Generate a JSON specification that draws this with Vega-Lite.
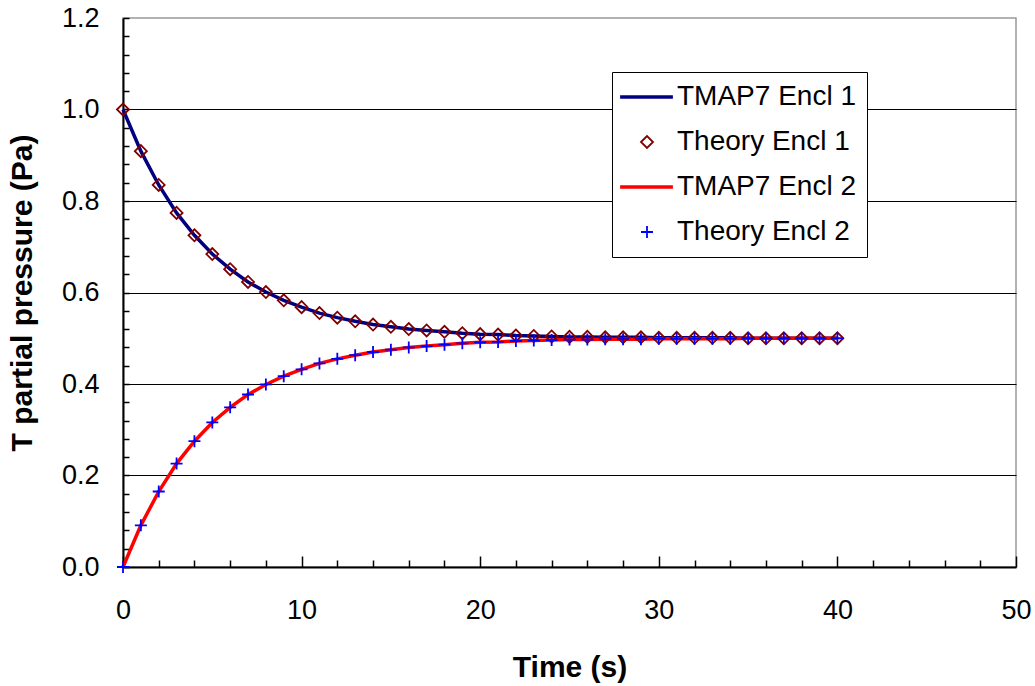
{
  "$schema": "https://vega.github.io/schema/vega-lite/v6.json",
  "width": 893,
  "height": 549,
  "autosize": "none",
  "padding": {"left": 123, "top": 18, "right": 19, "bottom": 119},
  "background": "white",
  "config": {"view": {"stroke": "#999999", "strokeWidth": 1.5}, "font": "Liberation Sans"},
  "data": {"values": [
    {"t":0,"s":"TMAP7 Encl 1","p":1.000},{"t":1,"s":"TMAP7 Encl 1","p":0.909},{"t":2,"s":"TMAP7 Encl 1","p":0.835},{"t":3,"s":"TMAP7 Encl 1","p":0.774},{"t":4,"s":"TMAP7 Encl 1","p":0.725},{"t":5,"s":"TMAP7 Encl 1","p":0.684},{"t":6,"s":"TMAP7 Encl 1","p":0.651},{"t":7,"s":"TMAP7 Encl 1","p":0.623},{"t":8,"s":"TMAP7 Encl 1","p":0.601},{"t":9,"s":"TMAP7 Encl 1","p":0.583},{"t":10,"s":"TMAP7 Encl 1","p":0.568},{"t":11,"s":"TMAP7 Encl 1","p":0.555},{"t":12,"s":"TMAP7 Encl 1","p":0.545},{"t":13,"s":"TMAP7 Encl 1","p":0.537},{"t":14,"s":"TMAP7 Encl 1","p":0.530},{"t":15,"s":"TMAP7 Encl 1","p":0.525},{"t":16,"s":"TMAP7 Encl 1","p":0.520},{"t":17,"s":"TMAP7 Encl 1","p":0.517},{"t":18,"s":"TMAP7 Encl 1","p":0.514},{"t":19,"s":"TMAP7 Encl 1","p":0.511},{"t":20,"s":"TMAP7 Encl 1","p":0.509},{"t":21,"s":"TMAP7 Encl 1","p":0.508},{"t":22,"s":"TMAP7 Encl 1","p":0.506},{"t":23,"s":"TMAP7 Encl 1","p":0.505},{"t":24,"s":"TMAP7 Encl 1","p":0.504},{"t":25,"s":"TMAP7 Encl 1","p":0.503},{"t":26,"s":"TMAP7 Encl 1","p":0.503},{"t":27,"s":"TMAP7 Encl 1","p":0.502},{"t":28,"s":"TMAP7 Encl 1","p":0.502},{"t":29,"s":"TMAP7 Encl 1","p":0.502},{"t":30,"s":"TMAP7 Encl 1","p":0.501},{"t":31,"s":"TMAP7 Encl 1","p":0.501},{"t":32,"s":"TMAP7 Encl 1","p":0.501},{"t":33,"s":"TMAP7 Encl 1","p":0.501},{"t":34,"s":"TMAP7 Encl 1","p":0.501},{"t":35,"s":"TMAP7 Encl 1","p":0.500},{"t":36,"s":"TMAP7 Encl 1","p":0.500},{"t":37,"s":"TMAP7 Encl 1","p":0.500},{"t":38,"s":"TMAP7 Encl 1","p":0.500},{"t":39,"s":"TMAP7 Encl 1","p":0.500},{"t":40,"s":"TMAP7 Encl 1","p":0.500},
    {"t":0,"s":"Theory Encl 1","p":1.000},{"t":1,"s":"Theory Encl 1","p":0.909},{"t":2,"s":"Theory Encl 1","p":0.835},{"t":3,"s":"Theory Encl 1","p":0.774},{"t":4,"s":"Theory Encl 1","p":0.725},{"t":5,"s":"Theory Encl 1","p":0.684},{"t":6,"s":"Theory Encl 1","p":0.651},{"t":7,"s":"Theory Encl 1","p":0.623},{"t":8,"s":"Theory Encl 1","p":0.601},{"t":9,"s":"Theory Encl 1","p":0.583},{"t":10,"s":"Theory Encl 1","p":0.568},{"t":11,"s":"Theory Encl 1","p":0.555},{"t":12,"s":"Theory Encl 1","p":0.545},{"t":13,"s":"Theory Encl 1","p":0.537},{"t":14,"s":"Theory Encl 1","p":0.530},{"t":15,"s":"Theory Encl 1","p":0.525},{"t":16,"s":"Theory Encl 1","p":0.520},{"t":17,"s":"Theory Encl 1","p":0.517},{"t":18,"s":"Theory Encl 1","p":0.514},{"t":19,"s":"Theory Encl 1","p":0.511},{"t":20,"s":"Theory Encl 1","p":0.509},{"t":21,"s":"Theory Encl 1","p":0.508},{"t":22,"s":"Theory Encl 1","p":0.506},{"t":23,"s":"Theory Encl 1","p":0.505},{"t":24,"s":"Theory Encl 1","p":0.504},{"t":25,"s":"Theory Encl 1","p":0.503},{"t":26,"s":"Theory Encl 1","p":0.503},{"t":27,"s":"Theory Encl 1","p":0.502},{"t":28,"s":"Theory Encl 1","p":0.502},{"t":29,"s":"Theory Encl 1","p":0.502},{"t":30,"s":"Theory Encl 1","p":0.501},{"t":31,"s":"Theory Encl 1","p":0.501},{"t":32,"s":"Theory Encl 1","p":0.501},{"t":33,"s":"Theory Encl 1","p":0.501},{"t":34,"s":"Theory Encl 1","p":0.501},{"t":35,"s":"Theory Encl 1","p":0.500},{"t":36,"s":"Theory Encl 1","p":0.500},{"t":37,"s":"Theory Encl 1","p":0.500},{"t":38,"s":"Theory Encl 1","p":0.500},{"t":39,"s":"Theory Encl 1","p":0.500},{"t":40,"s":"Theory Encl 1","p":0.500},
    {"t":0,"s":"TMAP7 Encl 2","p":0.000},{"t":1,"s":"TMAP7 Encl 2","p":0.091},{"t":2,"s":"TMAP7 Encl 2","p":0.165},{"t":3,"s":"TMAP7 Encl 2","p":0.226},{"t":4,"s":"TMAP7 Encl 2","p":0.275},{"t":5,"s":"TMAP7 Encl 2","p":0.316},{"t":6,"s":"TMAP7 Encl 2","p":0.349},{"t":7,"s":"TMAP7 Encl 2","p":0.377},{"t":8,"s":"TMAP7 Encl 2","p":0.399},{"t":9,"s":"TMAP7 Encl 2","p":0.417},{"t":10,"s":"TMAP7 Encl 2","p":0.432},{"t":11,"s":"TMAP7 Encl 2","p":0.445},{"t":12,"s":"TMAP7 Encl 2","p":0.455},{"t":13,"s":"TMAP7 Encl 2","p":0.463},{"t":14,"s":"TMAP7 Encl 2","p":0.470},{"t":15,"s":"TMAP7 Encl 2","p":0.475},{"t":16,"s":"TMAP7 Encl 2","p":0.480},{"t":17,"s":"TMAP7 Encl 2","p":0.483},{"t":18,"s":"TMAP7 Encl 2","p":0.486},{"t":19,"s":"TMAP7 Encl 2","p":0.489},{"t":20,"s":"TMAP7 Encl 2","p":0.491},{"t":21,"s":"TMAP7 Encl 2","p":0.492},{"t":22,"s":"TMAP7 Encl 2","p":0.494},{"t":23,"s":"TMAP7 Encl 2","p":0.495},{"t":24,"s":"TMAP7 Encl 2","p":0.496},{"t":25,"s":"TMAP7 Encl 2","p":0.497},{"t":26,"s":"TMAP7 Encl 2","p":0.497},{"t":27,"s":"TMAP7 Encl 2","p":0.498},{"t":28,"s":"TMAP7 Encl 2","p":0.498},{"t":29,"s":"TMAP7 Encl 2","p":0.498},{"t":30,"s":"TMAP7 Encl 2","p":0.499},{"t":31,"s":"TMAP7 Encl 2","p":0.499},{"t":32,"s":"TMAP7 Encl 2","p":0.499},{"t":33,"s":"TMAP7 Encl 2","p":0.499},{"t":34,"s":"TMAP7 Encl 2","p":0.499},{"t":35,"s":"TMAP7 Encl 2","p":0.500},{"t":36,"s":"TMAP7 Encl 2","p":0.500},{"t":37,"s":"TMAP7 Encl 2","p":0.500},{"t":38,"s":"TMAP7 Encl 2","p":0.500},{"t":39,"s":"TMAP7 Encl 2","p":0.500},{"t":40,"s":"TMAP7 Encl 2","p":0.500},
    {"t":0,"s":"Theory Encl 2","p":0.000},{"t":1,"s":"Theory Encl 2","p":0.091},{"t":2,"s":"Theory Encl 2","p":0.165},{"t":3,"s":"Theory Encl 2","p":0.226},{"t":4,"s":"Theory Encl 2","p":0.275},{"t":5,"s":"Theory Encl 2","p":0.316},{"t":6,"s":"Theory Encl 2","p":0.349},{"t":7,"s":"Theory Encl 2","p":0.377},{"t":8,"s":"Theory Encl 2","p":0.399},{"t":9,"s":"Theory Encl 2","p":0.417},{"t":10,"s":"Theory Encl 2","p":0.432},{"t":11,"s":"Theory Encl 2","p":0.445},{"t":12,"s":"Theory Encl 2","p":0.455},{"t":13,"s":"Theory Encl 2","p":0.463},{"t":14,"s":"Theory Encl 2","p":0.470},{"t":15,"s":"Theory Encl 2","p":0.475},{"t":16,"s":"Theory Encl 2","p":0.480},{"t":17,"s":"Theory Encl 2","p":0.483},{"t":18,"s":"Theory Encl 2","p":0.486},{"t":19,"s":"Theory Encl 2","p":0.489},{"t":20,"s":"Theory Encl 2","p":0.491},{"t":21,"s":"Theory Encl 2","p":0.492},{"t":22,"s":"Theory Encl 2","p":0.494},{"t":23,"s":"Theory Encl 2","p":0.495},{"t":24,"s":"Theory Encl 2","p":0.496},{"t":25,"s":"Theory Encl 2","p":0.497},{"t":26,"s":"Theory Encl 2","p":0.497},{"t":27,"s":"Theory Encl 2","p":0.498},{"t":28,"s":"Theory Encl 2","p":0.498},{"t":29,"s":"Theory Encl 2","p":0.498},{"t":30,"s":"Theory Encl 2","p":0.499},{"t":31,"s":"Theory Encl 2","p":0.499},{"t":32,"s":"Theory Encl 2","p":0.499},{"t":33,"s":"Theory Encl 2","p":0.499},{"t":34,"s":"Theory Encl 2","p":0.499},{"t":35,"s":"Theory Encl 2","p":0.500},{"t":36,"s":"Theory Encl 2","p":0.500},{"t":37,"s":"Theory Encl 2","p":0.500},{"t":38,"s":"Theory Encl 2","p":0.500},{"t":39,"s":"Theory Encl 2","p":0.500},{"t":40,"s":"Theory Encl 2","p":0.500}
  ]},
  "encoding": {
    "x": {
      "field": "t", "type": "quantitative",
      "scale": {"domain": [0, 50], "nice": false, "zero": false},
      "axis": {
        "title": "Time (s)", "titleFont": "Liberation Sans", "titleFontSize": 30, "titleFontWeight": "bold", "titleColor": "black", "titlePadding": 25,
        "values": [0,2,4,6,8,10,12,14,16,18,20,22,24,26,28,30,32,34,36,38,40,42,44,46,48,50],
        "labelExpr": "datum.value % 10 === 0 ? datum.label : ''",
        "labelFont": "Liberation Sans", "labelFontSize": 27, "labelColor": "black", "labelPadding": 41, "labelFlush": false, "labelOverlap": false,
        "tickSize": {"condition": {"test": "datum.value % 10 === 0", "value": -11}, "value": -7},
        "tickColor": "black", "tickWidth": 1.5,
        "domainColor": "black", "domainWidth": 2, "grid": false
      }
    },
    "y": {
      "field": "p", "type": "quantitative",
      "scale": {"domain": [0, 1.2], "nice": false},
      "axis": {
        "title": "T partial pressure (Pa)", "titleFont": "Liberation Sans", "titleFontSize": 30, "titleFontWeight": "bold", "titleColor": "black", "titlePadding": 24,
        "values": [0,0.04,0.08,0.12,0.16,0.2,0.24,0.28,0.32,0.36,0.4,0.44,0.48,0.52,0.56,0.6,0.64,0.68,0.72,0.76,0.8,0.84,0.88,0.92,0.96,1,1.04,1.08,1.12,1.16,1.2],
        "labelExpr": "abs(datum.value*5 - round(datum.value*5)) < 0.001 ? format(datum.value, '.1f') : ''",
        "labelFont": "Liberation Sans", "labelFontSize": 27, "labelColor": "black", "labelPadding": 30, "labelOverlap": false, "labelFlush": false,
        "tickSize": -6, "tickColor": "black", "tickWidth": 1.5,
        "domainColor": "black", "domainWidth": 2,
        "grid": true, "gridColor": "black", "gridWidth": 1,
        "gridOpacity": {"condition": {"test": "abs(datum.value*5 - round(datum.value*5)) < 0.001 && datum.value > 0.01 && datum.value < 1.19", "value": 1}, "value": 0}
      }
    },
    "color": {
      "field": "s", "type": "nominal",
      "scale": {"domain": ["TMAP7 Encl 1", "Theory Encl 1", "TMAP7 Encl 2", "Theory Encl 2"], "range": ["#000080", "#800000", "#FF0000", "#0000FF"]},
      "legend": {
        "orient": "none", "legendX": 489, "legendY": 54, "title": null,
        "labelFont": "Liberation Sans", "labelFontSize": 28, "labelColor": "black", "labelOffset": 26, "labelLimit": 400,
        "strokeColor": "black", "fillColor": "white", "padding": 11, "rowPadding": 17,
        "symbolSize": 400, "symbolStrokeWidth": 1.8
      }
    }
  },
  "layer": [
    {
      "transform": [{"filter": "indexof(datum.s,'TMAP7')===0"}],
      "mark": {"type": "line", "strokeWidth": 3.5}
    },
    {
      "transform": [{"filter": "indexof(datum.s,'Theory')===0"}],
      "mark": {"type": "point", "filled": false, "strokeWidth": 1.8, "size": 400, "opacity": 1, "xOffset": -10},
      "encoding": {
        "shape": {
          "field": "s", "type": "nominal",
          "scale": {"domain": ["TMAP7 Encl 1", "Theory Encl 1", "TMAP7 Encl 2", "Theory Encl 2"], "range": ["M-1.6,-0.09H3.5V0.09H-1.6Z", "M0.4,0L1,-0.6L1.6,0L1,0.6Z", "M-1.6,-0.09H3.5V0.09H-1.6Z", "M0.4,0H1.6M1,-0.6V0.6"]},
          "legend": {
            "orient": "none", "legendX": 489, "legendY": 54, "title": null,
            "labelFont": "Liberation Sans", "labelFontSize": 28, "labelColor": "black", "labelOffset": 26, "labelLimit": 400,
            "strokeColor": "black", "fillColor": "white", "padding": 11, "rowPadding": 17,
            "symbolSize": 400, "symbolStrokeWidth": 1.8
          }
        }
      }
    }
  ]
}
